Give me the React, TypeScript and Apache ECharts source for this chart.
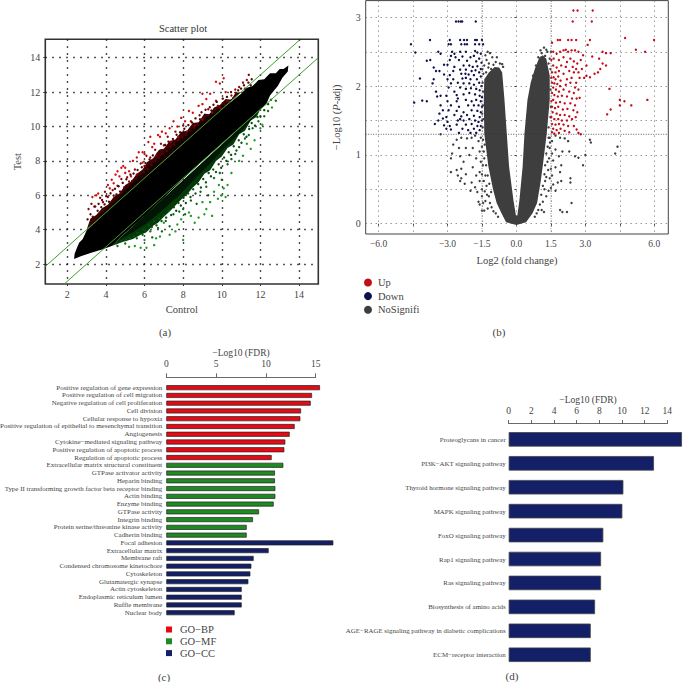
import React, { useEffect, useRef } from "react";
import * as echarts from "echarts";

const FONT = "'Liberation Serif', serif";
const INK = "#444";

// Panel (a)
const aTicks = [2, 4, 6, 8, 10, 12, 14];
const aUpperLine = [[0.86, 1.86], [14, 15]];
const aLowerLine = [[1.84, 0.84], [15, 14]];
const aCore = [[2.35, 2.3], [2.38, 2.6], [2.5, 2.95], [2.62, 3.25], [2.8, 3.45], [3, 3.95], [4, 5], [5, 6], [6, 7], [7, 8], [8, 9], [9, 10], [10, 11], [10.5, 11.45], [11, 11.9], [11.3, 12.25], [11.6, 12.35], [11.9, 12.7], [12.2, 12.75], [12.5, 13.1], [12.8, 13.1], [13, 13.35], [13.2, 13.35], [13.45, 13.55], [13.42, 13.2], [13.15, 12.85], [12.9, 12.35], [12.5, 11.8], [12.3, 11.3], [12, 11], [11, 10], [10, 9], [9, 8], [8, 6.95], [7, 5.85], [6, 4.8], [5, 3.8], [4.3, 3.05], [3.8, 2.85], [3.2, 2.65], [2.7, 2.45]];
const aUpOuter = [[3, 4], [11, 12], [10.7, 11.95], [10.5, 11.55], [10.2, 11.6], [9.9, 11.25], [9.6, 11.1], [9.35, 10.7], [9.1, 10.75], [8.8, 10.25], [8.5, 10.2], [8.2, 9.75], [7.9, 9.7], [7.6, 9.25], [7.3, 9.15], [7.0, 8.7], [6.75, 8.65], [6.45, 8.15], [6.15, 7.95], [5.9, 7.5], [5.6, 7.25], [5.3, 6.8], [5.0, 6.6], [4.7, 6.1], [4.4, 5.9], [4.1, 5.45], [3.8, 5.25], [3.5, 4.85], [3.2, 4.65]];
const aUpInner = [[3, 4], [11, 12], [10.2, 11.35], [9.4, 10.75], [8.6, 10], [7.8, 9.25], [7, 8.45], [6.2, 7.65], [5.4, 6.75], [4.6, 5.8], [3.8, 4.95]];
const aLowOuter = [[4.3, 3.05], [12, 11], [11.8, 10.55], [11.5, 10.35], [11.2, 9.75], [10.9, 9.55], [10.6, 8.95], [10.3, 8.75], [10, 8.25], [9.7, 8], [9.4, 7.45], [9.1, 7.25], [8.8, 6.75], [8.5, 6.45], [8.2, 6.05], [7.9, 5.75], [7.6, 5.4], [7.3, 5.05], [7, 4.75], [6.7, 4.4], [6.4, 4.2], [6.1, 3.85], [5.8, 3.7], [5.4, 3.45], [4.9, 3.3]];
const aLowInner = [[4.3, 3.05], [12, 11], [11, 9.7], [10.2, 8.8], [9.4, 7.85], [8.6, 6.95], [7.8, 6.0], [7, 5.2], [6.2, 4.45], [5.4, 3.85], [4.7, 3.4]];
const aRedFar = [[3.3, 5.9], [3.5, 6.0], [3.6, 6.1], [4.1, 6.6], [4.2, 6.4], [4.3, 6.9], [4.4, 6.7], [4.5, 7.2], [4.6, 7.4], [4.7, 7.1], [4.8, 7.6], [4.9, 7.7], [5.0, 7.6], [5.0, 7.3], [5.2, 7.4], [5.3, 7.1], [5.4, 8.0], [5.6, 8.2], [5.7, 8.5], [5.9, 8.5], [5.9, 7.9], [6.0, 8.4], [6.2, 9.1], [6.3, 9.4], [6.4, 8.8], [6.5, 9.0], [6.7, 9.5], [6.8, 9.4], [6.9, 9.7], [7.1, 9.6], [7.3, 9.9], [7.5, 10.3], [7.7, 10.0], [7.9, 10.5], [8.1, 10.3], [8.3, 10.9], [8.5, 10.8], [8.8, 11.2], [9.0, 11.3], [9.0, 11.9], [9.2, 11.6], [9.4, 11.9], [9.7, 11.5], [9.7, 12.6], [9.9, 12.5], [10.1, 12.8], [10.2, 12.0]];
const aRedMid = [[3.1, 5.2], [3.25, 5.5], [3.45, 5.35], [3.7, 5.85], [3.85, 5.6], [3.95, 6.2], [4.1, 5.9], [4.35, 6.3], [4.6, 6.55], [4.8, 6.95], [5.1, 7.05], [5.2, 6.8], [5.5, 7.5], [5.6, 7.2], [5.8, 7.85], [6.0, 7.7], [6.1, 8.3], [6.3, 8.2], [6.55, 8.65], [6.6, 8.3], [6.85, 9.0], [7.0, 8.9], [7.2, 9.4], [7.35, 9.1], [7.6, 9.7], [7.75, 9.4], [8.0, 10.05], [8.2, 9.7], [8.4, 10.3], [8.6, 10.05], [8.85, 10.65], [9.0, 10.4], [9.3, 11.0], [9.5, 10.8], [9.8, 11.2], [9.95, 11.05], [10.3, 11.5], [10.5, 11.8], [10.7, 12.15], [10.9, 12.3], [11.1, 12.55], [11.3, 12.7], [11.4, 13.0], [11.2, 12.2]];
const aRedEdge = [[3.05, 4.6], [3.2, 4.9], [3.32, 4.75], [3.4, 5.35], [3.57, 5.1], [3.62, 5.5], [3.76, 5.3], [3.8, 5.72], [3.93, 5.47], [4.02, 5.95], [4.16, 5.62], [4.24, 6.12], [4.4, 5.98], [4.47, 6.38], [4.55, 6.05], [4.66, 6.52], [4.73, 6.22], [4.87, 6.72], [4.95, 6.47], [5.06, 6.93], [5.16, 6.58], [5.27, 7.2], [5.36, 6.83], [5.43, 7.27], [5.56, 6.95], [5.64, 7.47], [5.74, 7.22], [5.86, 7.63], [5.97, 7.33], [6.05, 7.87], [6.17, 7.52], [6.26, 8.08], [6.36, 7.76], [6.43, 8.32], [6.56, 8.02], [6.67, 8.43], [6.74, 8.18], [6.86, 8.62], [6.94, 8.41], [7.07, 8.93], [7.16, 8.56], [7.24, 9.12], [7.36, 8.83], [7.47, 9.27], [7.54, 8.96], [7.66, 9.52], [7.77, 9.22], [7.84, 9.66], [7.96, 9.37], [8.06, 9.87], [8.14, 9.52], [8.27, 10.08], [8.36, 9.78], [8.46, 10.23], [8.56, 9.93], [8.64, 10.47], [8.76, 10.12], [8.87, 10.42], [8.95, 10.83], [9.07, 10.55], [9.16, 10.97], [9.27, 10.66], [9.38, 11.12], [9.46, 10.93], [9.57, 11.26], [9.66, 11.02], [9.74, 11.43], [9.87, 11.15], [10.05, 11.62], [10.16, 11.28], [10.27, 11.72], [10.37, 11.45], [10.48, 12.0], [10.6, 11.65], [10.75, 11.95], [10.85, 12.1], [11.0, 12.2], [11.15, 12.4], [11.25, 12.1], [11.38, 12.55], [11.5, 12.4], [11.55, 12.75]];
const aGreenFar = [[5.8, 2.95], [6.1, 2.95], [6.5, 3.1], [6.0, 3.4], [5.2, 3.0], [5.5, 3.05], [6.8, 3.6], [7.3, 3.7], [7.7, 4.3], [7.9, 4.6], [8.0, 3.4], [8.3, 5.0], [8.6, 4.4], [8.8, 4.7], [9.1, 4.9], [9.2, 5.2], [9.4, 5.6], [9.5, 4.8], [9.8, 5.8], [10.0, 6.0], [10.1, 6.4], [10.3, 6.6], [10.2, 5.9], [10.5, 7.3], [10.9, 8.0], [11.1, 8.3], [11.5, 8.7], [11.7, 9.2], [12.1, 10.1], [12.6, 11.1], [9.85, 6.6], [9.6, 6.2], [9.0, 5.6], [8.4, 4.8], [7.6, 3.9], [7.0, 4.4], [6.6, 3.5], [11.3, 9.0], [12.0, 9.9]];
const aGreenMid = [[4.6, 3.05], [5.0, 3.2], [5.6, 3.5], [5.9, 3.7], [6.3, 3.9], [6.4, 3.55], [6.7, 4.1], [6.9, 3.9], [7.1, 4.5], [7.3, 4.2], [7.5, 4.9], [7.8, 5.05], [8.0, 5.2], [8.1, 4.9], [8.4, 5.7], [8.7, 5.5], [8.9, 6.2], [9.2, 6.5], [9.3, 6.0], [9.6, 7.0], [9.9, 7.3], [10.0, 6.9], [10.3, 7.8], [10.5, 8.1], [10.7, 8.4], [10.9, 8.8], [11.2, 9.3], [11.4, 9.5], [11.6, 9.9], [11.9, 10.3], [12.2, 10.6], [12.4, 10.9], [12.8, 11.5]];
const aGreenEdge = [[4.55, 3.22], [4.8, 3.35], [5.05, 3.4], [5.25, 3.52], [5.45, 3.6], [5.62, 3.82], [5.78, 3.78], [5.95, 4.0], [6.05, 3.92], [6.22, 4.25], [6.38, 4.15], [6.5, 4.48], [6.62, 4.25], [6.76, 4.65], [6.88, 4.5], [7.0, 4.85], [7.12, 4.7], [7.24, 5.1], [7.38, 4.85], [7.52, 5.3], [7.64, 5.1], [7.76, 5.55], [7.88, 5.4], [8.02, 5.85], [8.14, 5.55], [8.26, 6.1], [8.38, 5.9], [8.52, 6.35], [8.64, 6.1], [8.78, 6.65], [8.92, 6.45], [9.04, 6.95], [9.18, 6.75], [9.32, 7.3], [9.44, 7.1], [9.56, 7.5], [9.7, 7.35], [9.84, 7.8], [9.97, 7.6], [10.12, 8.2], [10.24, 8.0], [10.36, 8.5], [10.48, 8.35], [10.62, 8.85], [10.76, 8.6], [10.88, 9.2], [11.02, 9.05], [11.14, 9.55], [11.28, 9.4], [11.42, 9.85], [11.55, 10.2], [11.72, 10.05], [11.85, 10.55], [12.0, 10.6], [12.2, 10.95], [12.4, 11.3], [12.55, 11.55]];

// Panel (b)
const bXTicks = [-6, -4.5, -3, -1.5, 0, 1.5, 3, 4.5, 6];
const bXLabels = [-6, -3, -1.5, 0, 1.5, 3, 6];
const bYTicks = [0, 0.5, 1, 1.5, 2, 2.5, 3];
const bYLabels = [0, 1, 2, 3];
const bCutLine = [[-6.56, 1.3], [6.61, 1.3]];
const bLeftCut = [[-1.5, -0.15], [-1.5, 3.24]];
const bRightCut = [[1.5, -0.15], [1.5, 3.24]];
const bCore = [[-0.02, 0.12], [-0.13, 0.34], [-0.32, 0.83], [-0.42, 1.31], [-0.52, 1.8], [-0.62, 2.2], [-0.75, 2.27], [-0.95, 2.28], [-1.2, 2.2], [-1.4, 2.1], [-1.42, 1.8], [-1.4, 1.31], [-1.22, 0.83], [-1.02, 0.5], [-0.86, 0.3], [-0.65, 0.15], [-0.45, 0.02], [0, -0.02], [0.42, 0.02], [0.7, 0.15], [0.9, 0.3], [1.05, 0.6], [1.15, 0.85], [1.32, 1.31], [1.45, 1.8], [1.45, 2.15], [1.3, 2.4], [1.15, 2.45], [1.0, 2.42], [0.8, 2.25], [0.62, 2.05], [0.48, 1.8], [0.35, 1.31], [0.27, 0.83], [0.13, 0.34], [0.04, 0.12]];
const bGray = [[-1.25, 2.5], [-1.15, 2.48], [-1.35, 2.45], [-1.05, 2.42], [-1.3, 2.38], [-1.2, 2.33], [-0.9, 2.35], [-1.4, 2.3], [-1.0, 2.31], [-0.85, 2.42],
  [-1.48, 2.25], [-1.47, 2.05], [-1.49, 1.6], [-1.47, 1.4], [-1.55, 1.25], [-1.65, 1.2], [-1.8, 1.28], [-1.95, 1.25], [-2.15, 1.24], [-2.4, 1.25], [-2.6, 1.22], [-3.3, 1.3], [-2.75, 1.15], [-2.5, 1.1], [-2.2, 1.1], [-1.9, 1.1], [-1.6, 1.05], [-2.8, 1.02], [-2.45, 0.98], [-2.05, 1.0], [-1.75, 0.95], [-2.85, 0.95], [-2.3, 0.9], [-1.55, 0.9], [-2.4, 0.8], [-1.9, 0.82], [-1.6, 0.75], [-2.6, 0.78], [-2.2, 0.72], [-1.75, 0.7], [-2.55, 0.7], [-2.85, 0.75], [-2.4, 0.66], [-2.45, 0.62], [-1.95, 0.6], [-2.25, 0.58], [-1.6, 0.62], [-1.8, 0.53], [-2.0, 0.48], [-1.5, 0.5], [-1.7, 0.46], [-1.5, 0.4], [-1.65, 0.32], [-1.6, 0.28], [-1.45, 0.3], [-1.35, 0.33], [-1.5, 0.19], [-1.4, 0.19], [-1.25, 0.22], [-1.2, 0.4], [-1.3, 0.55], [-1.35, 0.7], [-1.4, 0.95],
  [-1.45, 1.22], [-1.5, 1.12], [-1.42, 1.05], [-1.46, 0.85], [-1.5, 0.72], [-1.42, 0.62], [-1.38, 0.47], [-1.28, 0.42], [-1.15, 0.3], [-1.08, 0.24], [-1.0, 0.18], [-0.9, 0.15], [-0.8, 0.1], [-1.1, 0.46], [-1.18, 0.58], [-1.25, 0.7], [-1.32, 0.85], [-1.38, 1.15], [-1.44, 1.52], [-1.46, 1.72], [-1.45, 1.92], [-1.44, 2.18], [-1.32, 2.2], [-1.22, 2.27], [-1.1, 2.25], [-0.58, 2.28], [-0.62, 2.32], [-0.72, 2.33],
  [1.5, 2.5], [1.3, 2.53], [1.2, 2.56], [1.25, 2.44], [1.05, 2.52], [1.45, 2.4], [0.95, 2.42], [1.45, 1.25], [1.55, 1.2], [1.7, 1.28], [1.9, 1.25], [2.1, 1.24], [2.25, 1.2], [3.2, 1.22], [3.24, 1.18], [4.3, 1.02], [4.4, 1.12], [3.0, 1.0], [2.9, 0.85], [2.55, 0.98], [2.7, 0.96], [2.3, 1.05], [2.0, 1.05], [1.7, 1.08], [1.55, 1.02], [1.85, 0.98], [1.6, 0.92], [1.95, 0.85], [1.7, 0.82], [1.5, 0.8], [1.9, 0.75], [1.55, 0.7], [1.45, 0.66], [2.35, 0.66], [2.35, 0.6], [1.95, 0.62], [1.8, 0.6], [1.6, 0.57], [1.5, 0.52], [1.4, 0.48], [1.7, 0.48], [2.4, 0.3], [1.9, 0.2], [2.0, 0.17], [2.2, 0.17], [1.1, 0.2], [1.2, 0.17], [1.3, 0.4], [1.25, 0.62], [1.35, 0.9], [1.45, 1.1],
  [1.4, 1.25], [1.36, 1.12], [1.46, 1.18], [1.3, 1.02], [1.42, 0.95], [1.25, 0.85], [1.38, 0.78], [1.22, 0.72], [1.3, 0.68], [1.15, 0.55], [1.22, 0.5], [1.08, 0.42], [1.15, 0.32], [1.02, 0.28], [0.95, 0.2], [0.88, 0.15], [0.8, 0.1], [1.4, 1.4], [1.48, 1.55], [1.5, 1.7], [1.48, 1.95], [1.48, 2.25], [1.4, 2.33], [1.35, 2.5], [1.1, 2.48], [0.85, 2.3], [0.72, 2.15]];
const bUp = [[2.48, 3.1], [2.66, 3.1], [3.32, 3.1], [2.45, 2.94], [3.28, 2.94], [1.55, 2.63], [1.8, 2.67], [1.9, 2.67], [2.25, 2.67], [2.4, 2.67], [2.6, 2.67], [3.2, 2.67], [3.1, 2.6], [4.73, 2.7], [5.99, 2.67], [5.2, 2.53], [5.6, 2.5],
  [1.6, 2.5], [1.75, 2.47], [1.9, 2.5], [2.05, 2.52], [2.15, 2.53], [2.25, 2.5], [2.4, 2.52], [2.55, 2.52], [2.7, 2.5], [2.9, 2.45], [3.9, 2.48], [4.1, 2.48], [3.75, 2.5], [3.3, 2.43], [3.6, 2.4],
  [1.52, 2.38], [1.62, 2.4], [1.85, 2.38], [2.05, 2.42], [2.2, 2.35], [2.35, 2.4], [2.5, 2.36], [2.65, 2.33], [2.8, 2.38], [3.05, 2.3], [3.75, 2.33], [3.9, 2.3], [3.65, 2.25], [3.55, 2.2], [3.4, 2.18], [3.2, 2.13], [3.05, 2.15], [2.95, 2.12],
  [1.6, 2.3], [1.75, 2.27], [1.95, 2.3], [2.15, 2.28], [2.45, 2.28], [2.6, 2.25], [1.55, 2.2], [1.7, 2.2], [1.85, 2.22], [2.05, 2.18], [2.3, 2.22], [2.5, 2.2], [2.7, 2.2], [2.85, 2.25],
  [1.52, 2.12], [1.62, 2.13], [1.7, 2.1], [1.82, 2.14], [1.92, 2.08], [2.2, 2.1], [2.4, 2.12], [2.6, 2.05], [2.75, 2.12], [1.55, 2.05], [1.65, 2.04], [1.78, 2.03], [1.9, 2.0], [2.15, 2.02], [2.35, 2.05], [2.55, 1.98],
  [1.6, 1.98], [1.72, 1.95], [1.85, 1.92], [1.55, 1.9], [2.05, 1.95], [2.3, 1.92], [2.5, 1.9], [2.7, 1.95], [1.65, 1.87], [1.8, 1.85], [1.98, 1.86], [2.2, 1.85], [2.42, 1.82], [2.62, 1.82], [2.75, 1.83], [4.05, 1.96], [4.5, 1.8], [4.5, 1.72], [4.7, 1.78], [5.0, 1.72], [5.7, 1.8], [4.1, 1.66], [3.95, 1.59],
  [1.52, 1.78], [1.6, 1.8], [1.72, 1.76], [1.9, 1.77], [2.1, 1.75], [2.35, 1.75], [2.55, 1.72], [1.55, 1.7], [1.68, 1.68], [1.82, 1.7], [2.02, 1.66], [2.22, 1.67], [2.48, 1.65], [2.65, 1.62],
  [1.58, 1.62], [1.75, 1.6], [1.9, 1.58], [2.1, 1.58], [2.3, 1.56], [1.52, 1.55], [1.65, 1.52], [1.82, 1.52], [1.98, 1.5], [2.2, 1.5], [2.42, 1.52], [2.58, 1.55],
  [1.55, 1.45], [1.7, 1.44], [1.85, 1.45], [2.05, 1.44], [2.25, 1.42], [2.5, 1.42], [1.6, 1.38], [1.75, 1.36], [1.92, 1.38], [2.1, 1.35], [2.3, 1.33], [2.62, 1.37], [2.7, 1.32], [2.8, 1.3], [1.65, 1.31], [1.85, 1.32], [1.55, 1.33]];
const bDown = [[-2.63, 2.94], [-2.52, 2.94], [-2.42, 2.94], [-2.36, 2.94], [-1.77, 2.94], [-3.76, 2.67], [-2.9, 2.67], [-2.45, 2.67], [-2.28, 2.67], [-2.15, 2.67], [-1.8, 2.67], [-1.72, 2.67], [-1.5, 2.67], [-4.59, 2.61], [-2.95, 2.61], [-2.85, 2.61], [-2.4, 2.61], [-2.25, 2.61], [-2.15, 2.61], [-1.8, 2.61], [-1.62, 2.61], [-1.45, 2.61], [-4.4, 2.49],
  [-3.4, 2.5], [-3.3, 2.47], [-2.8, 2.5], [-2.7, 2.47], [-2.45, 2.5], [-2.2, 2.5], [-1.8, 2.51], [-1.7, 2.49], [-1.55, 2.47], [-2.85, 2.44], [-2.65, 2.42], [-2.35, 2.43], [-2.0, 2.42], [-1.85, 2.44], [-1.62, 2.4], [-3.9, 2.37], [-3.75, 2.38], [-2.9, 2.38], [-2.5, 2.38], [-2.15, 2.37], [-1.75, 2.36], [-1.52, 2.34],
  [-3.15, 2.31], [-3.0, 2.31], [-2.7, 2.28], [-2.3, 2.3], [-2.05, 2.3], [-1.9, 2.28], [-1.7, 2.29], [-1.55, 2.25], [-3.6, 2.27], [-3.5, 2.22], [-3.35, 2.22], [-2.75, 2.22], [-2.45, 2.24], [-2.2, 2.24], [-1.95, 2.22], [-1.78, 2.23], [-1.62, 2.2], [-3.15, 2.17], [-2.9, 2.16], [-2.4, 2.18], [-2.22, 2.18], [-2.08, 2.17], [-1.85, 2.16], [-1.55, 2.14],
  [-4.2, 2.11], [-3.6, 2.1], [-3.0, 2.1], [-2.75, 2.1], [-2.35, 2.11], [-2.2, 2.12], [-2.0, 2.1], [-1.72, 2.1], [-1.62, 2.05], [-3.65, 2.04], [-2.85, 2.04], [-2.55, 2.05], [-2.3, 2.04], [-2.05, 2.04], [-1.85, 2.02], [-1.52, 2.0], [-3.5, 1.92], [-2.95, 1.98], [-2.7, 1.92], [-2.45, 1.98], [-2.2, 1.96], [-1.98, 1.97], [-1.75, 1.96], [-1.6, 1.94],
  [-3.45, 1.85], [-3.3, 1.86], [-3.05, 1.86], [-2.6, 1.87], [-2.55, 1.82], [-2.3, 1.88], [-2.05, 1.9], [-1.8, 1.88], [-1.6, 1.86], [-1.5, 1.84], [-3.0, 1.78], [-2.6, 1.78], [-2.2, 1.8], [-1.95, 1.78], [-1.75, 1.8], [-1.55, 1.78], [-4.1, 1.79], [-3.9, 1.78], [-4.45, 1.76],
  [-3.3, 1.72], [-2.85, 1.72], [-2.5, 1.7], [-2.1, 1.72], [-1.85, 1.72], [-1.65, 1.72], [-1.5, 1.7], [-3.2, 1.65], [-2.95, 1.65], [-2.6, 1.64], [-2.3, 1.62], [-1.95, 1.65], [-1.7, 1.64], [-1.55, 1.62], [-3.35, 1.6], [-3.05, 1.55], [-2.7, 1.58], [-2.4, 1.56], [-2.15, 1.58], [-1.85, 1.57], [-1.6, 1.55],
  [-3.4, 1.5], [-3.2, 1.53], [-3.0, 1.48], [-2.55, 1.5], [-2.45, 1.52], [-2.3, 1.5], [-2.05, 1.52], [-1.8, 1.5], [-1.65, 1.48], [-1.5, 1.5], [-3.55, 1.45], [-3.15, 1.43], [-2.9, 1.42], [-2.6, 1.44], [-2.2, 1.44], [-1.95, 1.45], [-1.7, 1.42], [-1.55, 1.42], [-3.05, 1.38], [-2.85, 1.37], [-2.35, 1.38], [-2.1, 1.36], [-1.85, 1.38], [-1.6, 1.36], [-2.5, 1.32], [-2.0, 1.32], [-1.75, 1.32]];
const bLegendNames = ["Up", "Down", "NoSignifi"];

// Panel (c)
const cCategories = ["Positive regulation of gene expression", "Positive regulation of cell migration", "Negative regulation of cell proliferation", "Cell division", "Cellular response to hypoxia", "Positive regulation of epithelial to mesenchymal transition", "Angiogenesis", "Cytokine−mediated signaling pathway", "Positive regulation of apoptotic process", "Regulation of apoptotic process", "Extracellular matrix structural constituent", "GTPase activator activity", "Heparin binding", "Type II transforming growth factor beta receptor binding", "Actin binding", "Enzyme binding", "GTPase activity", "Integrin binding", "Protein serine/threonine kinase activity", "Cadherin binding", "Focal adhesion", "Extracellular matrix", "Membrane raft", "Condensed chromosome kinetochore", "Cytoskeleton", "Glutamatergic synapse", "Actin cytoskeleton", "Endoplasmic reticulum lumen", "Ruffle membrane", "Nuclear body"];
const goBP = [15.43, 14.63, 14.5, 13.53, 13.46, 12.89, 12.39, 11.95, 11.85, 10.58];
const goMF = [11.75, 10.91, 10.91, 10.95, 10.95, 10.78, 9.31, 8.7, 8.07, 8.07];
const goCC = [16.77, 10.28, 8.77, 8.54, 8.44, 8.24, 7.57, 7.57, 7.57, 6.86];
const goNames = ["GO−BP", "GO−MF", "GO−CC"];

// Panel (d)
const dCategories = ["Proteoglycans in cancer", "PI3K−AKT signaling pathway", "Thyroid hormone signaling pathway", "MAPK signaling pathway", "FoxO signaling pathway", "Rap1 signaling pathway", "Ras signaling pathway", "Biosynthesis of amino acids", "AGE−RAGE signaling pathway in diabetic complications", "ECM−receptor interaction"];
const dValues = [15.29, 12.82, 10.12, 10.03, 8.35, 8.15, 8.15, 7.62, 7.24, 7.24];

const RED = "#e60a14";
const GREEN = "#1e8a22";
const NAVY = "#131f66";

const txt = { fontFamily: FONT, color: INK };

function poly(points: number[][], fill: string, axis: number, z: number) {
  return {
    type: "custom", xAxisIndex: axis, yAxisIndex: axis, z, silent: true, data: points, clip: true,
    renderItem: (params: any, api: any) => {
      if (params.dataIndex !== 0) return null;
      return { type: "polygon", shape: { points: points.map((p) => api.coord(p)) }, style: { fill } };
    },
  };
}
function dots(name: string | undefined, data: number[][], color: string, axis: number, z: number, size: number) {
  return { type: "scatter", name, data, xAxisIndex: axis, yAxisIndex: axis, z, symbolSize: size, itemStyle: { color, opacity: 1 }, silent: true };
}
function seg(data: number[][], color: string, axis: number, z: number, width: number, type: any) {
  return { type: "line", data, xAxisIndex: axis, yAxisIndex: axis, z, symbol: "none", silent: true, lineStyle: { color, width, type } };
}
function padTo(vals: number[], before: number, total: number) {
  const out: (number | null)[] = [];
  for (let i = 0; i < total; i++) out.push(i >= before && i < before + vals.length ? vals[i - before] : null);
  return out;
}
const fmt1 = (v: number) => v.toFixed(1).replace("-", "−");
const caption = (text: string, x: number, y: number) => ({ type: "text", x, y, style: { text, ...{ font: `11px ${FONT}` }, fill: INK, align: "center", verticalAlign: "middle" } });

function buildOption() {
  const dottedA = { show: true, lineStyle: { color: "#111", width: 1.4, type: [1.4, 5.6] } };
  const dottedB = { show: true, lineStyle: { color: "#666", width: 1, type: [1, 4] } };
  return {
    animation: false,
    backgroundColor: "#fff",
    title: { text: "Scatter plot", left: 178, top: 18, textAlign: "center", textStyle: { ...txt, fontSize: 10.5, fontWeight: "normal", color: "#333" } },
    legend: [
      { orient: "vertical", left: 359, top: 272, itemWidth: 10, itemHeight: 8, itemGap: 2.6, selectedMode: false, icon: "circle", data: bLegendNames, textStyle: { ...txt, fontSize: 10.5 } },
      { orient: "vertical", left: 161, top: 619, itemWidth: 6, itemHeight: 6, itemGap: 0.8, selectedMode: false, icon: "rect", data: goNames, itemStyle: { borderWidth: 0 }, textStyle: { ...txt, fontSize: 10.5, padding: [0, 0, 0, 3] } },
    ],
    grid: [
      { left: 45.3, top: 39.3, width: 273, height: 244.7, show: true, borderColor: "#333", borderWidth: 1.6, outerBoundsMode: "none" },
      { left: 365.7, top: 0.6, width: 302.6, height: 233.4, show: true, borderColor: "#444", borderWidth: 1, outerBoundsMode: "none" },
      { left: 166.3, top: 376, width: 149.4, height: 1, outerBoundsMode: "none" },
      { left: 166.3, top: 383.8, width: 169.3, height: 232.8, outerBoundsMode: "none" },
      { left: 508.7, top: 422.7, width: 158.6, height: 1, outerBoundsMode: "none" },
      { left: 508.7, top: 427.4, width: 174.5, height: 239.3, outerBoundsMode: "none" },
    ],
    xAxis: [
      { gridIndex: 0, type: "value", min: 0.86, max: 15, name: "Control", nameLocation: "middle", nameGap: 20, nameTextStyle: { ...txt, fontSize: 10.5 }, axisLine: { show: false }, axisTick: { length: 2, customValues: aTicks, lineStyle: { color: "#333" } }, axisLabel: { ...txt, fontSize: 10, margin: 5, customValues: aTicks }, splitLine: dottedA },
      { gridIndex: 1, type: "value", min: -6.56, max: 6.61, name: "Log2 (fold change)", nameLocation: "middle", nameGap: 21, nameTextStyle: { ...txt, fontSize: 10.5 }, axisLine: { show: false }, axisTick: { length: 2, customValues: bXTicks, lineStyle: { color: "#444" } }, axisLabel: { ...txt, fontSize: 9.5, margin: 5, customValues: bXLabels, formatter: fmt1 }, splitLine: dottedB },
      { gridIndex: 2, type: "value", min: 0, max: 15, interval: 5, position: "top", name: "−Log10 (FDR)", nameLocation: "middle", nameGap: 18, nameTextStyle: { ...txt, fontSize: 9.5 }, axisLine: { show: true, lineStyle: { color: "#444", width: 0.8 } }, axisTick: { length: 3.7, lineStyle: { color: "#444", width: 0.8 } }, axisLabel: { ...txt, fontSize: 9.5, margin: 7 }, splitLine: { show: false } },
      { gridIndex: 3, type: "value", min: 0, max: 17, show: false },
      { gridIndex: 4, type: "value", min: 0, max: 14, interval: 2, position: "top", name: "−Log10 (FDR)", nameLocation: "middle", nameGap: 16, nameTextStyle: { ...txt, fontSize: 9.5 }, axisLine: { show: true, lineStyle: { color: "#444", width: 0.8 } }, axisTick: { length: 3.7, lineStyle: { color: "#444", width: 0.8 } }, axisLabel: { ...txt, fontSize: 9.5, margin: 7 }, splitLine: { show: false } },
      { gridIndex: 5, type: "value", min: 0, max: 15.4, show: false },
    ],
    yAxis: [
      { gridIndex: 0, type: "value", min: 0.84, max: 15.07, name: "Test", nameLocation: "middle", nameGap: 22, nameTextStyle: { ...txt, fontSize: 10.5 }, axisLine: { show: false }, axisTick: { length: 2, customValues: aTicks, lineStyle: { color: "#333" } }, axisLabel: { ...txt, fontSize: 10, margin: 5, customValues: aTicks }, splitLine: dottedA },
      { gridIndex: 1, type: "value", min: -0.15, max: 3.244, name: "−Log10 ({i|P}-adj)", nameLocation: "middle", nameGap: 24, nameTextStyle: { ...txt, fontSize: 10.5, rich: { i: { ...txt, fontSize: 10.5, fontStyle: "italic" } } }, axisLine: { show: false }, axisTick: { length: 2, customValues: bYTicks, lineStyle: { color: "#444" } }, axisLabel: { ...txt, fontSize: 10, margin: 5, customValues: bYLabels }, splitLine: dottedB },
      { gridIndex: 2, type: "value", min: 0, max: 1, show: false },
      { gridIndex: 3, type: "category", inverse: true, data: cCategories, axisLine: { show: false }, axisTick: { show: false }, axisLabel: { ...txt, fontSize: 6.95, margin: 4, interval: 0 } },
      { gridIndex: 4, type: "value", min: 0, max: 1, show: false },
      { gridIndex: 5, type: "category", inverse: true, data: dCategories, axisLine: { show: false }, axisTick: { show: false }, axisLabel: { ...txt, fontSize: 6.9, margin: 3, interval: 0 } },
    ],
    graphic: [caption("(a)", 165, 332), caption("(b)", 499, 332), caption("(c)", 164, 677), caption("(d)", 512, 676)],
    series: [
      poly(aUpOuter, "#3a0405", 0, 3),
      poly(aUpInner, "#180102", 0, 4),
      poly(aLowOuter, "#043a09", 0, 3),
      poly(aLowInner, "#011604", 0, 4),
      dots(undefined, aRedFar, "#d90a0a", 0, 5, 2.4),
      dots(undefined, aRedMid, "#8a0808", 0, 5, 2.4),
      dots(undefined, aRedEdge, "#560506", 0, 5, 2.4),
      dots(undefined, aGreenFar, "#1f9a24", 0, 5, 2.4),
      dots(undefined, aGreenMid, "#0d6a14", 0, 5, 2.4),
      dots(undefined, aGreenEdge, "#07500d", 0, 5, 2.4),
      poly(aCore, "#000", 0, 6),
      seg(aUpperLine, "#3f9f2a", 0, 8, 1, "solid"),
      seg(aLowerLine, "#3f9f2a", 0, 8, 1, "solid"),

      poly(bCore, "#3e3e3e", 1, 3),
      dots("NoSignifi", bGray, "#3e3e3e", 1, 3, 2.4),
      dots("Up", bUp, "#c00d18", 1, 4, 2.4),
      dots("Down", bDown, "#0e1048", 1, 4, 2.4),
      seg(bCutLine, "#333", 1, 5, 0.8, [1, 1.5]),
      seg(bLeftCut, "#888", 1, 5, 0.8, [1, 1.5]),
      seg(bRightCut, "#888", 1, 5, 0.8, [1, 1.5]),

      { type: "bar", name: goNames[0], stack: "go", xAxisIndex: 3, yAxisIndex: 3, barWidth: 5, data: padTo(goBP, 0, 30), itemStyle: { color: RED, borderColor: "#222", borderWidth: 0.7 } },
      { type: "bar", name: goNames[1], stack: "go", xAxisIndex: 3, yAxisIndex: 3, barWidth: 5, data: padTo(goMF, 10, 30), itemStyle: { color: GREEN, borderColor: "#222", borderWidth: 0.7 } },
      { type: "bar", name: goNames[2], stack: "go", xAxisIndex: 3, yAxisIndex: 3, barWidth: 5, data: padTo(goCC, 20, 30), itemStyle: { color: NAVY, borderColor: "#222", borderWidth: 0.7 } },
      { type: "bar", xAxisIndex: 5, yAxisIndex: 5, barWidth: 14.5, data: dValues, itemStyle: { color: NAVY, borderColor: "#444", borderWidth: 0.8 } },
    ],
  };
}

export default function App() {
  const ref = useRef<HTMLDivElement>(null);
  useEffect(() => {
    const chart = echarts.init(ref.current!, null, { renderer: "svg" });
    chart.setOption(buildOption() as any);
    return () => chart.dispose();
  }, []);
  return <div ref={ref} style={{ position: "absolute", left: 0, top: 0, width: 683, height: 682 }} />;
}
